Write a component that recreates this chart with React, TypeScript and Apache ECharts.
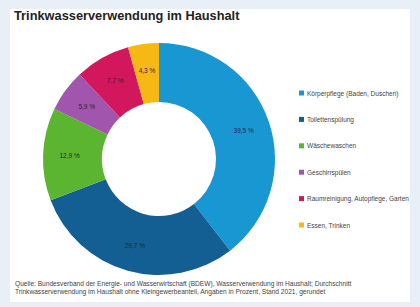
import React, { useEffect, useRef } from "react";
import * as echarts from "echarts";

const title = "Trinkwasserverwendung im Haushalt";
const categories = [
  "Körperpflege (Baden, Duschen)",
  "Toilettenspülung",
  "Wäschewaschen",
  "Geschirrspülen",
  "Raumreinigung, Autopflege, Garten",
  "Essen, Trinken",
];
const values = [39.5, 29.7, 12.9, 5.9, 7.7, 4.3];
const colors = ["#1997d3", "#135f93", "#5cb531", "#a155ad", "#d3175c", "#f7b816"];
const sourceLines = [
  "Quelle: Bundesverband der Energie- und Wasserwirtschaft (BDEW), Wasserverwendung im Haushalt; Durchschnitt",
  "Trinkwasserverwendung im Haushalt ohne Kleingewerbeanteil, Angaben in Prozent, Stand 2021, gerundet",
];

export default function App() {
  const ref = useRef<HTMLDivElement>(null);
  useEffect(() => {
    document.body.style.margin = "0";
    const chart = echarts.init(ref.current!, null, { renderer: "svg" });
    const font = "'Liberation Sans', Arial, sans-serif";
    chart.setOption({
      animation: false,
      backgroundColor: "#e9eff6",
      textStyle: { fontFamily: font },
      graphic: [
        {
          type: "rect",
          shape: { x: 10, y: 9, width: 400, height: 293 },
          style: { fill: "#ffffff" },
          z: -10,
        },
        {
          type: "text",
          x: 14,
          y: 15,
          style: {
            text: title,
            font: `bold 12.8px ${font}`,
            fill: "#222222",
            verticalAlign: "middle",
          },
        },
        ...sourceLines.map((t, i) => ({
          type: "text",
          x: 15,
          y: 283 + i * 8,
          style: {
            text: t,
            font: `6.6px ${font}`,
            fill: "#444444",
            verticalAlign: "middle",
          },
        })),
      ],
      legend: {
        orient: "vertical",
        left: 294,
        top: 84,
        itemWidth: 5,
        itemHeight: 5,
        itemGap: 18.4,
        icon: "rect",
        textStyle: { fontSize: 6.5, lineHeight: 8, color: "#444444", fontFamily: font, padding: [0, 0, 0, -2] },
        data: categories,
      },
      series: [
        {
          type: "pie",
          center: [159, 159],
          radius: [57, 116],
          startAngle: 90,
          clockwise: true,
          avoidLabelOverlap: false,
          label: {
            position: "inside",
            formatter: (p: any) => String(p.value).replace(".", ",") + " %",
            fontSize: 6.5,
            color: "#1d2a38",
            fontFamily: font,
          },
          labelLine: { show: false },
          itemStyle: { borderWidth: 0 },
          data: categories.map((name, i) => ({
            name,
            value: values[i],
            itemStyle: { color: colors[i] },
          })),
        },
      ],
    });
    return () => chart.dispose();
  }, []);
  return <div ref={ref} style={{ width: 420, height: 307 }} />;
}
